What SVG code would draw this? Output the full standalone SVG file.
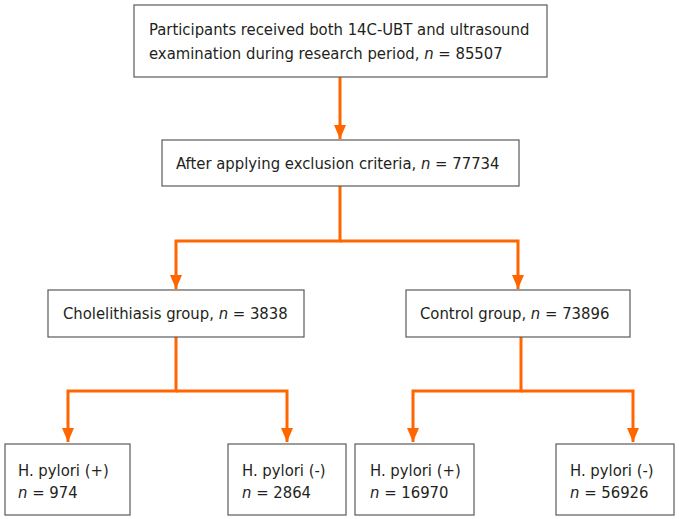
<svg xmlns="http://www.w3.org/2000/svg" width="679" height="519" viewBox="0 0 679 519">
<style>
.box{fill:#fff;stroke:#5a5a5a;stroke-width:1.2}
.t{font-family:"DejaVu Sans Condensed","DejaVu Sans",sans-serif;font-size:16.5px;fill:#231f20}
.i{font-style:italic}
.c{fill:none;stroke:#ff6600;stroke-width:3}
</style>
<defs>
<marker id="ah" viewBox="0 0 14 12" refX="14" refY="6" markerWidth="14" markerHeight="12" markerUnits="userSpaceOnUse" orient="auto">
<path d="M0,0 L14,6 L0,12 Z" fill="#ff6600"/>
</marker>
</defs>
<rect width="679" height="519" fill="#fff"/>
<g id="connectors">
<path class="c" d="M340,77 V139" marker-end="url(#ah)"/>
<path class="c" d="M340,186 V241 H176 V289" marker-end="url(#ah)"/>
<path class="c" d="M340,241 H518 V289" marker-end="url(#ah)"/>
<path class="c" d="M176,337 V391 H68 V442" marker-end="url(#ah)"/>
<path class="c" d="M176,391 H287 V442" marker-end="url(#ah)"/>
<path class="c" d="M521,337 V391 H413 V442" marker-end="url(#ah)"/>
<path class="c" d="M521,391 H633 V442" marker-end="url(#ah)"/>
</g>
<g id="n1"><rect class="box" x="134" y="5" width="413" height="72"/>
<text class="t" x="149" y="35">Participants received both 14C-UBT and ultrasound</text>
<text class="t" x="149" y="59">examination during research period, <tspan class="i">n</tspan> = 85507</text></g>
<g id="n2"><rect class="box" x="162" y="140" width="357" height="46"/>
<text class="t" x="176" y="169">After applying exclusion criteria, <tspan class="i">n</tspan> = 77734</text></g>
<g id="n3"><rect class="box" x="48" y="290" width="256" height="47"/>
<text class="t" x="63" y="319">Cholelithiasis group, <tspan class="i">n</tspan> = 3838</text></g>
<g id="n4"><rect class="box" x="406" y="290" width="224" height="47"/>
<text class="t" x="420" y="319">Control group, <tspan class="i">n</tspan> = 73896</text></g>
<g id="n5"><rect class="box" x="5" y="444" width="125" height="71"/>
<text class="t" x="18" y="476">H. pylori (+)</text>
<text class="t" x="18" y="498"><tspan class="i">n</tspan> = 974</text></g>
<g id="n6"><rect class="box" x="228" y="444" width="118" height="71"/>
<text class="t" x="242" y="476">H. pylori (-)</text>
<text class="t" x="242" y="498"><tspan class="i">n</tspan> = 2864</text></g>
<g id="n7"><rect class="box" x="355" y="444" width="119" height="71"/>
<text class="t" x="370" y="476">H. pylori (+)</text>
<text class="t" x="370" y="498"><tspan class="i">n</tspan> = 16970</text></g>
<g id="n8"><rect class="box" x="556" y="444" width="118" height="71"/>
<text class="t" x="570" y="476">H. pylori (-)</text>
<text class="t" x="570" y="498"><tspan class="i">n</tspan> = 56926</text></g>
</svg>
